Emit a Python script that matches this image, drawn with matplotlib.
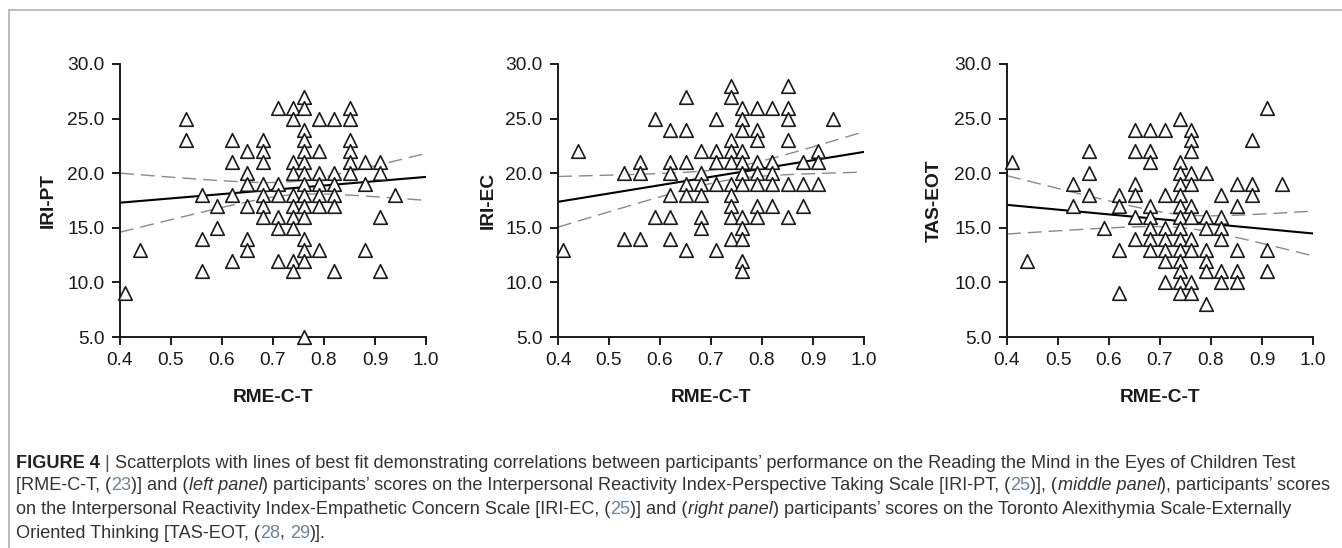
import numpy as np
import matplotlib
matplotlib.use("Agg")
import matplotlib.pyplot as plt
from matplotlib.patches import Rectangle

plt.rcParams['font.family'] = ['Liberation Sans', 'DejaVu Sans']

# ---------------- data ----------------
# Panel 1: IRI-PT  (x value -> list of y values)
pt_x = [0.41, 0.44, 0.53, 0.56, 0.59, 0.62, 0.65, 0.68, 0.71, 0.74, 0.76, 0.79, 0.82, 0.85, 0.88, 0.91, 0.94]
pt_y = [
    [9], [13], [25, 23], [18, 14, 11], [17, 15], [23, 21, 18, 12],
    [22, 20, 19, 17, 14, 13], [23, 22, 21, 19, 18, 17, 16], [26, 19, 18, 16, 15, 12],
    [26, 25, 21, 20, 18, 17, 16, 15, 12, 11],
    [27, 26, 24, 23, 22, 21, 20, 19, 18, 17, 16, 14, 13, 12, 5],
    [25, 22, 20, 19, 18, 17, 13], [25, 20, 19, 18, 17, 11], [26, 25, 23, 22, 21, 20],
    [21, 19, 13], [21, 20, 16, 11], [18],
]
# Panel 2: IRI-EC
ec_x = [0.41, 0.44, 0.53, 0.56, 0.59, 0.62, 0.65, 0.68, 0.71, 0.74, 0.76, 0.79, 0.82, 0.85, 0.88, 0.91, 0.94]
ec_y = [
    [13], [22], [20, 14], [21, 20, 14], [25, 16], [24, 21, 20, 18, 16, 14],
    [27, 24, 21, 19, 18, 13], [22, 20, 19, 18, 16, 15], [25, 22, 21, 19, 13],
    [28, 27, 23, 22, 21, 19, 18, 17, 16, 14],
    [26, 25, 24, 22, 21, 20, 19, 16, 15, 14, 12, 11],
    [26, 24, 23, 21, 20, 19, 17, 16], [26, 21, 20, 19, 17], [28, 26, 25, 23, 19, 16],
    [21, 19, 17], [22, 21, 19], [25],
]
# Panel 3: TAS-EOT
eot_x = [0.41, 0.44, 0.53, 0.56, 0.59, 0.62, 0.65, 0.68, 0.71, 0.74, 0.76, 0.79, 0.82, 0.85, 0.88, 0.91, 0.94]
eot_y = [
    [21], [12], [19, 17], [22, 20, 18], [15], [18, 17, 13, 9],
    [24, 22, 19, 18, 16, 14], [24, 22, 21, 17, 16, 15, 14, 13], [24, 18, 15, 14, 13, 12, 10],
    [25, 21, 20, 19, 18, 17, 16, 15, 14, 13, 12, 11, 10, 9],
    [24, 23, 22, 20, 19, 17, 16, 14, 13, 10, 9],
    [20, 16, 15, 13, 12, 11, 8], [18, 16, 15, 14, 11, 10], [19, 17, 13, 11, 10],
    [23, 19, 18], [26, 13, 11], [19],
]

# Fitted line: value at x=0.4 and x=1.0
fit_ends = [(17.3, 19.66), (17.38, 21.95), (17.1, 14.48)]
# 95% CI half-widths: at x=0.4, at x=1.0, and narrowest
ci_half = [(2.7, 2.15, 0.6), (2.32, 1.85, 0.55), (2.67, 2.05, 0.6)]

ylabels = ["IRI-PT", "IRI-EC", "TAS-EOT"]
xlabel = "RME-C-T"
xticks = [0.4, 0.5, 0.6, 0.7, 0.8, 0.9, 1.0]
yticks = [5.0, 10.0, 15.0, 20.0, 25.0, 30.0]

panels = [(pt_x, pt_y), (ec_x, ec_y), (eot_x, eot_y)]

# ---------------- figure ----------------
W, H = 1342, 548
fig = plt.figure(figsize=(W / 100, H / 100), dpi=100)

# light frame (top and left edges visible)
fig.patches.append(Rectangle((9 / W, -0.1), 1.2, 1 - 10 / H + 0.1, transform=fig.transFigure,
                             fill=False, edgecolor='#b0b0b0', linewidth=1.2))

ax_left_px = [120, 558, 1007]
ax_w_px = 306
ax_top_px, ax_bot_px = 64, 337
ylabel_x_px = [57, 497, 943]

for i, (xs, ys) in enumerate(panels):
    ax = fig.add_axes([ax_left_px[i] / W, 1 - ax_bot_px / H, ax_w_px / W, (ax_bot_px - ax_top_px) / H])
    px = np.concatenate([[x] * len(yy) for x, yy in zip(xs, ys)])
    py = np.concatenate([np.array(yy, dtype=float) for yy in ys])
    ax.scatter(px, py, marker='^', s=95, facecolors='white', edgecolors='#1a1a1a',
               linewidths=1.2, zorder=3, clip_on=False)

    # best-fit line and hyperbolic confidence band
    y0, y1 = fit_ends[i]
    hl, hr, hm = ci_half[i]
    xg = np.linspace(0.4, 1.0, 200)
    yg = y0 + (y1 - y0) * (xg - 0.4) / 0.6
    a = np.sqrt(hl ** 2 - hm ** 2)
    b = np.sqrt(hr ** 2 - hm ** 2)
    x0 = (0.4 * b + 1.0 * a) / (a + b)
    k = (a / (x0 - 0.4)) ** 2
    h = np.sqrt(hm ** 2 + k * (xg - x0) ** 2)
    ax.plot(xg, yg, color='black', lw=1.5, zorder=2)
    ax.plot(xg, yg + h, color='#8a8a8a', lw=1.0, dashes=(10, 5), zorder=2)
    ax.plot(xg, yg - h, color='#8a8a8a', lw=1.0, dashes=(10, 5), zorder=2)

    ax.set_xlim(0.4, 1.0)
    ax.set_ylim(5, 30)
    ax.set_xticks(xticks)
    ax.set_xticklabels([f"{v:.1f}" for v in xticks])
    ax.set_yticks(yticks)
    ax.set_yticklabels([f"{v:.1f}" for v in yticks])
    for sp in ['top', 'right']:
        ax.spines[sp].set_visible(False)
    for sp in ['left', 'bottom']:
        ax.spines[sp].set_linewidth(1.4)
        ax.spines[sp].set_color('#1a1a1a')
    ax.tick_params(direction='out', length=6, width=1.4, labelsize=13.8, colors='#1a1a1a', pad=5)
    ax.set_xlabel(xlabel, fontsize=13.8, fontweight='bold', labelpad=14, color='#1a1a1a')
    ax.set_ylabel(ylabels[i], fontsize=13.8, fontweight='bold', color='#1a1a1a')
    ax.yaxis.set_label_coords((ylabel_x_px[i] - ax_left_px[i]) / ax_w_px, 0.5)
    ax.patch.set_alpha(0)

# ---------------- caption with styled runs ----------------
cap_color = '#333333'
cite_color = '#6f8294'
R = 'n'; B = 'b'; I = 'i'; C = 'c'
caption_lines = [
    [("FIGURE 4", B), (" | ", 'sep'), ("Scatterplots with lines of best fit demonstrating correlations between participants\u2019 performance on the Reading the Mind in the Eyes of Children Test", R)],
    [("[RME-C-T, ", R), ("(", R), ("23", C), (")] and (", R), ("left panel", I), (") participants\u2019 scores on the Interpersonal Reactivity Index-Perspective Taking Scale [IRI-PT, (", R), ("25", C), (")], (", R), ("middle panel", I), ("), participants\u2019 scores", R)],
    [("on the Interpersonal Reactivity Index-Empathetic Concern Scale [IRI-EC, (", R), ("25", C), (")] and (", R), ("right panel", I), (") participants\u2019 scores on the Toronto Alexithymia Scale-Externally", R)],
    [("Oriented Thinking [TAS-EOT, (", R), ("28", C), (", ", R), ("29", C), (")].", R)],
]
line_y_px = [463, 486, 510, 533]
fs = 13.05
renderer = fig.canvas.get_renderer()
for line, ypx in zip(caption_lines, line_y_px):
    x = 16 / W
    for txt, style in line:
        kw = dict(fontsize=fs, color=cap_color, va='center', ha='left')
        if style == B:
            kw['fontweight'] = 'bold'
            kw['color'] = '#222222'
        elif style == I:
            kw['fontstyle'] = 'italic'
        elif style == C:
            kw['color'] = cite_color
        elif style == 'sep':
            kw['color'] = '#555555'
        t_ = fig.text(x, 1 - ypx / H, txt, **kw)
        bb = t_.get_window_extent(renderer=renderer)
        x = bb.x1 / W

fig.savefig("out.png", dpi=100)
